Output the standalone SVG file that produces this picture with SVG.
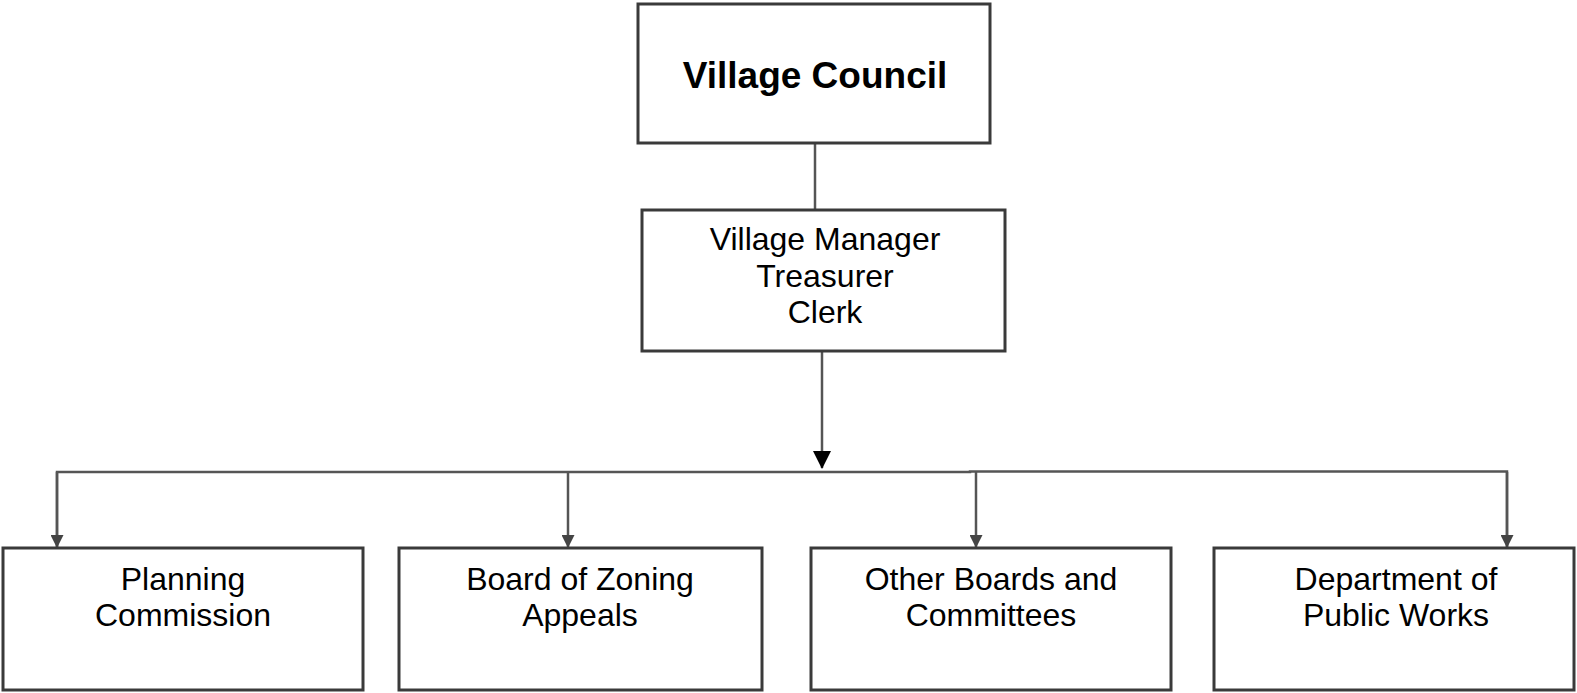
<svg xmlns="http://www.w3.org/2000/svg" width="1577" height="693" viewBox="0 0 1577 693">
<defs>
<style>
.box{fill:#fff;stroke:#3a3a3a;stroke-width:3}
.ln{fill:none;stroke:#555;stroke-width:2.5}
.t{font-family:"Liberation Sans",Arial,sans-serif;font-size:32px;fill:#000;text-anchor:middle}
.tb{font-family:"Liberation Sans",Arial,sans-serif;font-size:37px;font-weight:bold;fill:#000;text-anchor:middle}
</style>
<marker id="big" markerWidth="18" markerHeight="18" refX="17" refY="9" orient="auto" markerUnits="userSpaceOnUse">
<path d="M0,0 L18,9 L0,18 Z" fill="#000"/>
</marker>
<marker id="small" markerWidth="13" markerHeight="13" refX="12" refY="6.5" orient="auto" markerUnits="userSpaceOnUse">
<path d="M0,0 L13,6.5 L0,13 Z" fill="#444"/>
</marker>
</defs>
<rect width="1577" height="693" fill="#fff"/>
<g id="connectors">
<line class="ln" x1="815" y1="143" x2="815" y2="209"/>
<line class="ln" x1="822" y1="352" x2="822" y2="468" stroke="#333" marker-end="url(#big)"/>
<polyline class="ln" points="57,547 57,472 970,472 970,471.5 1507,471.5 1507,547"/>
<line class="ln" x1="57" y1="472" x2="57" y2="547" marker-end="url(#small)"/>
<line class="ln" x1="568" y1="472" x2="568" y2="547" marker-end="url(#small)"/>
<line class="ln" x1="976" y1="472" x2="976" y2="547" marker-end="url(#small)"/>
<line class="ln" x1="1507" y1="472" x2="1507" y2="547" marker-end="url(#small)"/>
</g>
<g id="village-council">
<rect class="box" x="638" y="4" width="352" height="139"/>
<text class="tb" x="815" y="88">Village Council</text>
</g>
<g id="village-manager">
<rect class="box" x="642" y="210" width="363" height="141"/>
<text class="t" x="825" y="250">Village Manager</text>
<text class="t" x="825" y="287">Treasurer</text>
<text class="t" x="825" y="323">Clerk</text>
</g>
<g id="planning-commission">
<rect class="box" x="3" y="548" width="360" height="142"/>
<text class="t" x="183" y="590">Planning</text>
<text class="t" x="183" y="626">Commission</text>
</g>
<g id="board-of-zoning-appeals">
<rect class="box" x="399" y="548" width="363" height="142"/>
<text class="t" x="580" y="590">Board of Zoning</text>
<text class="t" x="580" y="626">Appeals</text>
</g>
<g id="other-boards">
<rect class="box" x="811" y="548" width="360" height="142"/>
<text class="t" x="991" y="590">Other Boards and</text>
<text class="t" x="991" y="626">Committees</text>
</g>
<g id="public-works">
<rect class="box" x="1214" y="548" width="360" height="142"/>
<text class="t" x="1396" y="590">Department of</text>
<text class="t" x="1396" y="626">Public Works</text>
</g>
</svg>
